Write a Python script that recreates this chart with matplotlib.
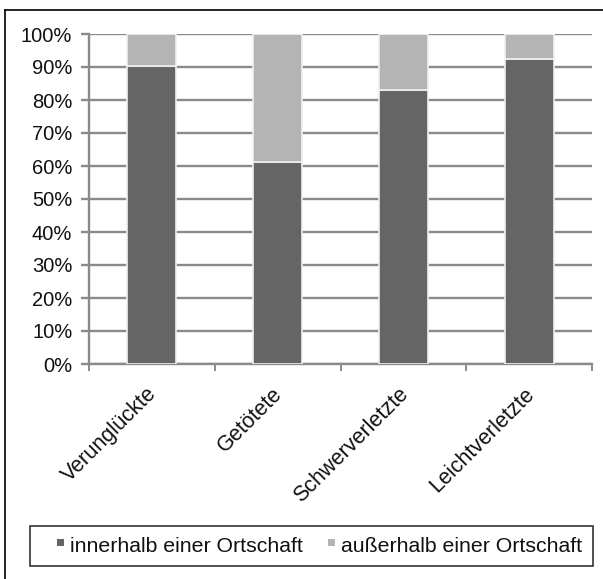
import matplotlib
matplotlib.use("Agg")
import matplotlib.pyplot as plt
from matplotlib.ticker import FixedLocator, PercentFormatter
from matplotlib.lines import Line2D
from matplotlib.patches import Patch, Rectangle
from matplotlib.legend_handler import HandlerPatch
from matplotlib.transforms import ScaledTranslation

plt.rcParams['font.family'] = ['Liberation Sans', 'DejaVu Sans']

categories = ["Verunglückte", "Getötete", "Schwerverletzte", "Leichtverletzte"]
innerhalb = [90.2, 61.2, 82.9, 92.3]
ausserhalb = [100 - v for v in innerhalb]
series_names = ["innerhalb einer Ortschaft", "außerhalb einer Ortschaft"]
yticks = [0, 10, 20, 30, 40, 50, 60, 70, 80, 90, 100]

W, H = 603, 579
fig = plt.figure(figsize=(W / 100, H / 100), dpi=100)
ax = fig.add_axes([89 / W, 1 - 364 / H, (592 - 89) / W, (364 - 34) / H])

dark = "#656565"
light = "#b4b4b4"
grid = "#8a8a8a"

x = list(range(len(categories)))
ax.bar(x, innerhalb, width=0.39, color=dark, edgecolor="#f0f0f0", linewidth=1.2, zorder=3)
ax.bar(x, ausserhalb, bottom=innerhalb, width=0.39, color=light, edgecolor="#f0f0f0", linewidth=1.2, zorder=3)

ax.set_xlim(-0.5, len(categories) - 0.5)
ax.set_ylim(0, 100)
ax.set_yticks(yticks)
ax.yaxis.set_major_formatter(PercentFormatter(decimals=0))
ax.yaxis.grid(True, color=grid, linewidth=1.7, zorder=0)
ax.set_axisbelow(True)

ax.set_xticks(x)
ax.set_xticklabels(categories, rotation=45, ha="right", rotation_mode="anchor", fontsize=15.5, color="#111111")
ax.tick_params(axis="x", length=0, pad=14)
offset = ScaledTranslation(-4 / 72, 0, fig.dpi_scale_trans)
for lab in ax.get_xticklabels():
    lab.set_transform(lab.get_transform() + offset)
ax.xaxis.set_minor_locator(FixedLocator([i - 0.5 for i in range(len(categories) + 1)]))
ax.tick_params(axis="x", which="minor", length=5, width=1.4, color=grid, direction="out")
ax.tick_params(axis="y", length=6, width=1.7, color=grid, labelsize=14.5, pad=6, labelcolor="#111111")

for s in ["top", "right"]:
    ax.spines[s].set_visible(False)
for s in ["left", "bottom"]:
    ax.spines[s].set_color(grid)
    ax.spines[s].set_linewidth(1.7)


def small_square(legend, orig_handle, xdescent, ydescent, width, height, fontsize):
    s = 5.0  # points (~7 px)
    return Rectangle((width - xdescent - s, -ydescent + (height - s) / 2 + 1.2), s, s)


handles = [Patch(facecolor=dark, edgecolor="none"), Patch(facecolor=light, edgecolor="none")]
leg = fig.legend(handles, series_names, loc="center", ncol=2,
                 bbox_to_anchor=(311.5 / W, 1 - 546 / H), fontsize=15.3,
                 frameon=True, fancybox=False, edgecolor="black",
                 handlelength=1.1, handleheight=0.7, handletextpad=0.28,
                 columnspacing=0.4, borderpad=0.5,
                 handler_map={Patch: HandlerPatch(patch_func=small_square)})
leg.get_frame().set_linewidth(1.2)
for t in leg.get_texts():
    t.set_color("#111111")

# outer border (left and top visible)
fig.add_artist(Line2D([5 / W, 5 / W], [0, 1 - 10 / H], color="black", linewidth=1.2, transform=fig.transFigure))
fig.add_artist(Line2D([5 / W, 1], [1 - 10 / H, 1 - 10 / H], color="black", linewidth=1.2, transform=fig.transFigure))

fig.savefig("out.png", dpi=100)
